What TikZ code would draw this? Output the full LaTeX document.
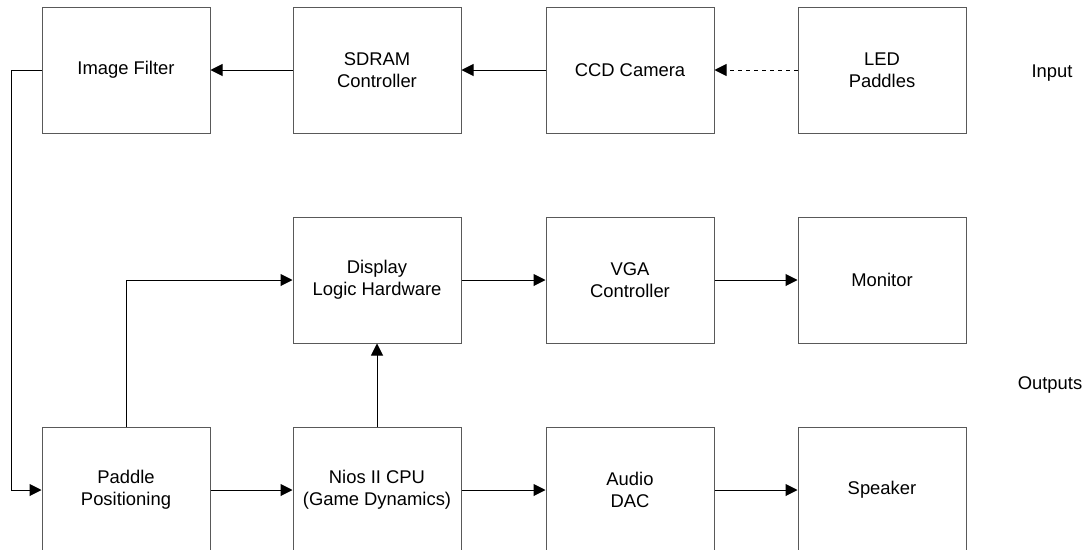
\documentclass[tikz,border=0pt]{standalone}
\usepackage{fontspec}
\setmainfont{Liberation Sans}
\usetikzlibrary{arrows.meta}
\newcommand*\blockwidth{126pt}
\newcommand*\blockheight{94.5pt}
\tikzset{block/.style={
    draw=black!65,
    line width=0.75pt,
    rectangle,
    minimum width=\blockwidth,
    minimum height=\blockheight,
    inner sep=0pt,
    align=center,
    font=\fontsize{13.8}{16.3}\selectfont
}}
\tikzset{link/.style={
    line width=0.75pt,
    -{Triangle[length=9pt,width=9pt]}
}}
\tikzset{sidetext/.style={font=\fontsize{13.8}{16.3}\selectfont}}

\begin{document}
\begin{tikzpicture}[x=0.75pt,y=-0.75pt]

    % Fix the page to the picture size.
    \useasboundingbox (0,0) rectangle (1086,550);
    \clip (0,0) rectangle (1086,550);

    % Input row.
    \node[block] (filter) at (126,70) {Image Filter};
    \node[block] (sdram) at (377,70) {SDRAM\\Controller};
    \node[block] (ccd) at (630,70) {CCD Camera};
    \node[block] (led) at (882,70) {LED\\Paddles};

    % Display row.
    \node[block] (display) at (377,280) {Display\\Logic Hardware};
    \node[block] (vga) at (630,280) {VGA\\Controller};
    \node[block] (monitor) at (882,280) {Monitor};

    % Game and audio row.
    \node[block] (paddle) at (126,490) {Paddle\\Positioning};
    \node[block] (nios) at (377,490) {Nios II CPU\\(Game Dynamics)};
    \node[block] (dac) at (630,490) {Audio\\DAC};
    \node[block] (speaker) at (882,490) {Speaker};

    % Side labels.
    \node[sidetext] (input) at (1052,73) {Input};
    \node[sidetext] (outputs) at (1050,385) {Outputs};

    % Connections.
    \draw[link, dashed] (led) -- (ccd);
    \draw[link] (ccd) -- (sdram);
    \draw[link] (sdram) -- (filter);
    \draw[link] (filter.west) -- ++(-30,0) |- (paddle.west);
    \draw[link] (paddle.north) |- (display.west);
    \draw[link] (nios) -- (display);
    \draw[link] (display) -- (vga);
    \draw[link] (vga) -- (monitor);
    \draw[link] (paddle) -- (nios);
    \draw[link] (nios) -- (dac);
    \draw[link] (dac) -- (speaker);

\end{tikzpicture}
\end{document}
